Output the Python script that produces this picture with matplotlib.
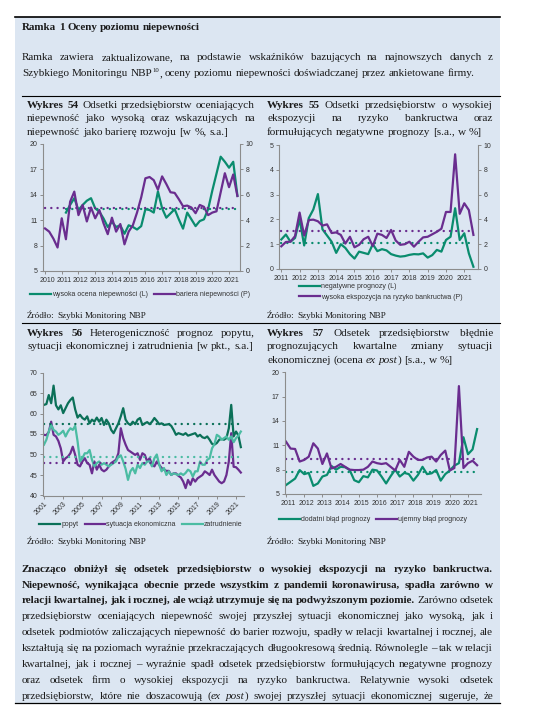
import numpy as np
import matplotlib
matplotlib.use("Agg")
import matplotlib.pyplot as plt
from matplotlib.lines import Line2D
from matplotlib.patches import Rectangle

plt.rcParams['font.family'] = ['Liberation Sans', 'DejaVu Sans']

# ------------------------------------------------------------------ DATA
# Wykres 54 (quarterly)
w54_years = list(range(2010, 2022))
w54_bariera_start = 2010.0
w54_bariera = [3.35, 3.1, 2.55, 1.85, 4.15, 2.5, 5.45, 6.25, 4.4, 5.2,
               3.9, 5.0, 4.15, 4.8, 3.75, 2.9, 4.2, 3.1, 3.7, 2.1,
               3.1, 3.6, 4.6, 5.8, 7.3, 7.4, 7.15, 6.4, 7.45, 6.85,
               6.2, 6.15, 5.65, 5.1, 5.15, 5.0, 4.55, 5.2, 5.05, 4.4,
               4.6, 4.7, 6.2, 7.7, 6.6, 7.6, 5.9]
w54_ocena_start = 2011.25
w54_ocena = [11.9, 12.8, 13.6, 12.2, 12.8, 13.3, 13.6, 12.4, 12.0, 11.2,
             10.2, 10.8, 10.2, 10.4, 9.4, 10.4, 10.2, 9.9, 10.3, 12.3,
             12.2, 11.9, 14.4, 12.4, 11.3, 11.8, 12.3, 11.1, 10.0, 11.9,
             11.1, 10.3, 10.9, 11.1, 12.3, 14.5, 16.5, 18.5, 17.9, 17.2,
             17.9, 13.9]
w54_ocena_mean = 12.3
w54_bariera_mean = 4.95
w54_left_ticks = [5, 8, 11, 14, 17, 20]
w54_right_ticks = [0, 2, 4, 6, 8, 10]

# Wykres 55 (quarterly from 2011Q1)
w55_years = list(range(2011, 2022))
w55_start = 2011.0
w55_negatywne = [1.19, 1.39, 1.1, 1.25, 2.0, 0.95, 2.05, 2.4, 3.02, 1.6,
                 1.35, 1.1, 0.65, 1.0, 0.85, 0.6, 0.42, 0.7, 0.65, 0.6,
                 1.0, 0.72, 0.8, 0.75, 0.6, 0.54, 0.5, 0.52, 0.57, 0.6,
                 0.59, 0.63, 0.46, 0.56, 0.77, 0.7, 1.17, 1.3, 2.45, 1.17,
                 1.44, 0.63, 0.09]
w55_ekspozycja = [1.83, 2.18, 2.2, 2.65, 4.55, 2.7, 3.95, 3.98, 3.85, 3.5,
                  3.6, 2.9, 2.95, 2.75, 2.05, 2.6, 1.75, 1.95, 2.4, 2.6,
                  1.85, 2.85, 2.75, 2.5, 3.15, 2.3, 1.95, 2.0, 2.2, 1.8,
                  2.2, 2.55, 2.6, 2.8, 3.0, 3.25, 4.6, 4.6, 9.25, 4.45,
                  5.3, 4.75, 2.75]
w55_negatywne_mean = 1.03
w55_ekspozycja_mean = 3.05
w55_left_ticks = [0, 1, 2, 3, 4, 5]
w55_right_ticks = [0, 2, 4, 6, 8, 10]

# Wykres 56 (quarterly from 2001Q1)
w56_start = 2001.0
w56_ticks = list(range(2001, 2022, 2))
w56_popyt = [62.1, 62.3, 64.5, 62.5, 66.8, 62.0, 61.0, 62.0,
             60.1, 61.3, 62.5, 63.3, 63.9, 61.0, 59.0, 59.7,
             58.9, 58.5, 59.3, 57.6, 58.5, 58.0, 59.0, 58.0,
             58.9, 57.2, 58.5, 57.6, 56.0, 55.2, 56.4, 57.6,
             59.3, 61.3, 58.5, 57.6, 57.2, 58.0, 57.4, 58.5,
             58.9, 57.2, 57.6, 57.9, 57.4, 58.0, 58.9, 58.2,
             57.4, 57.6, 57.2, 57.3, 57.4, 57.0, 56.0, 54.8,
             55.2, 55.0, 54.8, 55.2, 54.6, 54.8, 55.0, 55.2,
             54.4, 54.8, 54.2, 54.0, 54.4, 53.6, 52.6, 52.4,
             52.8, 53.6, 53.8, 53.6, 54.0, 56.4, 62.1, 54.4,
             55.6, 54.6, 51.8]
w56_sytuacja = [54.8, 54.7, 55.5, 58.0, 54.8, 54.4, 53.3, 51.5,
                48.3, 49.1, 49.5, 50.3, 51.9, 49.9, 47.5, 47.1,
                48.3, 49.1, 47.9, 47.5, 45.4, 48.3, 46.3, 47.5,
                46.3, 45.9, 46.3, 47.1, 47.9, 48.3, 48.7, 50.3,
                56.4, 54.0, 52.4, 51.1, 50.7, 50.3, 49.9, 50.3,
                48.7, 50.3, 49.9, 48.3, 49.1, 47.5, 47.1, 48.3,
                47.5, 46.7, 46.3, 46.0, 46.0, 45.0, 45.4, 45.4,
                44.8, 44.4, 43.4, 41.8, 43.8, 42.6, 44.2, 43.4,
                44.2, 44.6, 45.0, 45.9, 45.5, 45.0, 46.3, 45.0,
                44.2, 43.4, 43.0, 43.4, 45.0, 48.3, 55.2, 47.0,
                46.9, 46.3, 45.6]
w56_zatrudnienie = [52.4, 53.6, 55.6, 57.2, 56.0, 55.6, 54.8, 55.2,
                    55.8, 54.4, 55.6, 56.4, 56.0, 57.0, 53.2, 48.3,
                    49.1, 50.3, 50.3, 51.1, 48.7, 47.1, 47.9, 48.3,
                    47.5, 47.9, 47.5, 47.1, 47.5, 47.9, 48.3, 49.5,
                    49.8, 48.3, 46.5, 43.8, 45.9, 46.7, 45.4, 47.5,
                    46.7, 47.9, 47.5, 48.3, 48.3, 47.1, 49.1, 50.0,
                    47.5, 45.9, 46.7, 45.0, 45.9, 45.0, 45.4, 45.2,
                    45.0, 45.4, 45.0, 45.5, 46.3, 45.9, 44.6, 45.9,
                    45.9, 48.3, 47.5, 47.5, 48.7, 49.1, 51.5, 52.5,
                    54.8, 54.4, 53.6, 54.0, 54.4, 53.6, 54.4, 53.0,
                    54.0, 54.6, 55.6]
w56_popyt_mean = 57.5
w56_sytuacja_mean = 48.0
w56_zatrudnienie_mean = 49.4
w56_yticks = [40, 45, 50, 55, 60, 65, 70]

# Wykres 57 (quarterly from 2011Q1)
w57_years = list(range(2011, 2022))
w57_start = 2011.0
w57_dodatni = [6.1, 6.5, 6.9, 7.95, 7.45, 7.6, 6.0, 6.3, 7.15, 7.35,
               8.45, 8.0, 8.35, 8.3, 7.95, 6.7, 6.45, 7.2, 7.05, 8.0,
               7.9, 7.15, 6.3, 7.2, 8.0, 7.15, 7.6, 7.45, 6.65, 7.35,
               8.35, 7.45, 7.55, 7.95, 6.65, 7.45, 7.9, 8.5, 8.8, 12.0,
               9.9, 10.5, 13.0]
w57_ujemny = [11.45, 10.6, 10.55, 9.0, 9.2, 9.6, 11.25, 10.6, 8.7, 10.0,
              8.15, 8.35, 8.7, 8.35, 8.0, 7.95, 7.95, 8.0, 8.35, 9.0,
              8.8, 8.7, 8.8, 8.35, 7.9, 9.2, 8.35, 10.2, 9.6, 9.2,
              9.2, 9.5, 9.6, 9.0, 9.8, 10.35, 7.9, 8.2, 18.3, 8.2,
              8.8, 9.1, 8.55]
w57_dodatni_mean = 7.75
w57_ujemny_mean = 9.3
w57_yticks = [5, 8, 11, 14, 17, 20]

# ------------------------------------------------------------------ STYLE
W, H = 533, 710
SERIF = ['Liberation Serif', 'DejaVu Serif']
GREEN = '#0a8c6e'
DKGREEN = '#0b7058'
VIOLET = '#6a2d8f'
TEAL = '#4bbca3'
BG = '#dce6f2'
AXC = '#8c8c8c'
TXT = '#1a1a1a'
LBL = '#333333'
LW = 1.6
DOT = dict(linestyle=(0, (0.05, 2.6)), dash_capstyle='round', lw=1.7)

fig = plt.figure(figsize=(W / 100, H / 100), dpi=100)
fig.patch.set_facecolor('white')
renderer = fig.canvas.get_renderer()


def fx(x):
    return x / W


def fy(y):
    return 1 - y / H


fig.add_artist(Rectangle((fx(15), fy(703)), (500 - 15) / W, (703 - 17) / H,
                         transform=fig.transFigure, facecolor=BG,
                         edgecolor='none', zorder=-5))


def hline(x0, x1, y, lw):
    fig.add_artist(Line2D([fx(x0), fx(x1)], [fy(y), fy(y)], color='black',
                          lw=lw, transform=fig.transFigure, zorder=1))


hline(15, 500, 17, 1.2)
hline(22, 500, 95.7, 0.8)
hline(22, 500, 323, 0.8)
hline(15, 500, 703, 0.9)

# ------------------------------------------------------------------ TEXT HELPERS
_cache = {}


def seg_props(kind, size):
    if kind == 'b':
        return dict(fontsize=size, fontweight='bold', fontstyle='normal'), 0.0
    if kind == 'i':
        return dict(fontsize=size, fontweight='normal', fontstyle='italic'), 0.0
    if kind == 'sup':
        return dict(fontsize=size * 0.6, fontweight='normal', fontstyle='normal'), size * 0.38 * 100 / 72
    return dict(fontsize=size, fontweight='normal', fontstyle='normal'), 0.0


def seg_width(s, kind, size):
    key = (s, kind, round(size, 4))
    if key not in _cache:
        props, _ = seg_props(kind, size)
        t = fig.text(0, 0, s, family=SERIF, **props)
        _cache[key] = t.get_window_extent(renderer).width
        t.remove()
    return _cache[key]


def space_w(size, kind='r'):
    return seg_width('x x', kind, size) - seg_width('xx', kind, size)


def runs_to_words(runs):
    words, cur = [], []
    for text, kind in runs:
        parts = text.split(' ')
        for j, p in enumerate(parts):
            if j > 0 and cur:
                words.append(cur)
                cur = []
            if p:
                cur.append((p, kind))
    if cur:
        words.append(cur)
    return words


def natural_width(runs, size):
    words = runs_to_words(runs)
    return sum(sum(seg_width(s, k, size) for s, k in w) for w in words) + \
        space_w(size) * (len(words) - 1)


def fit_size(runs, target, base=8.0):
    return base * target / natural_width(runs, base)


def draw_line(runs, x0, x1, ybase, size, justify=True):
    words = runs_to_words(runs)
    while True:
        ws = [sum(seg_width(s, k, size) for s, k in w) for w in words]
        sp = space_w(size)
        if justify and len(words) > 1:
            gap = (x1 - x0 - sum(ws)) / (len(words) - 1)
            if gap < 0.45 * sp:
                size *= 0.99
                continue
        else:
            gap = sp
        break
    x = x0
    for w, wd in zip(words, ws):
        xx = x
        for s, k in w:
            props, rise = seg_props(k, size)
            fig.text(fx(xx), fy(ybase - rise), s, family=SERIF, color=TXT,
                     ha='left', va='baseline', **props)
            xx += seg_width(s, k, size)
        x += wd + gap


# ------------------------------------------------------------------ PAGE TEXT
title_runs = [("Ramka 1 Oceny poziomu niepewności", 'b')]
draw_line(title_runs, 22, 500, 30.5, fit_size(title_runs, 176), justify=False)

intro2 = [("Szybkiego Monitoringu NBP", 'r'), ("10", 'sup'),
          (", oceny poziomu niepewności doświadczanej przez ankietowane firmy.", 'r')]
BODY = fit_size(intro2, 455)
draw_line([("Ramka zawiera zaktualizowane, na podstawie wskaźników bazujących na najnowszych danych z", 'r')],
          22, 493, 60.5, BODY, True)
draw_line(intro2, 22, 493, 76.3, BODY, False)

CT = fit_size([("sytuacji ekonomicznej i zatrudnienia [w pkt., s.a.]", 'r')], 225)
SRC = fit_size([("Źródło: Szybki Monitoring NBP", 'r')], 120)

titles = [
    (27, 255, [107.8, 121.2, 134.6], [
        ([("Wykres 54", 'b'), (" Odsetki przedsiębiorstw oceniających", 'r')], True),
        ([("niepewność jako wysoką oraz wskazujących na", 'r')], True),
        ([("niepewność jako barierę rozwoju [w %, s.a.]", 'r')], False)]),
    (267, 493, [107.8, 121.2, 134.6], [
        ([("Wykres 55", 'b'), (" Odsetki przedsiębiorstw o wysokiej", 'r')], True),
        ([("ekspozycji na ryzyko bankructwa oraz", 'r')], True),
        ([("formułujących negatywne prognozy [s.a., w %]", 'r')], False)]),
    (27, 255, [335.8, 349.3], [
        ([("Wykres 56", 'b'), (" Heterogeniczność prognoz popytu,", 'r')], True),
        ([("sytuacji ekonomicznej i zatrudnienia [w pkt., s.a.]", 'r')], False)]),
    (267, 493, [335.8, 349.3, 362.8], [
        ([("Wykres 57", 'b'), (" Odsetek przedsiębiorstw błędnie", 'r')], True),
        ([("prognozujących kwartalne zmiany sytuacji", 'r')], True),
        ([("ekonomicznej (ocena ", 'r'), ("ex post", 'i'), (") [s.a., w %]", 'r')], False)]),
]
for x0, x1, ys, lines in titles:
    for yb, (runs, j) in zip(ys, lines):
        draw_line(runs, x0, x1, yb, CT, j)

for (x0, yb) in [(27, 318.5), (267, 318.5), (27, 543.5), (267, 543.5)]:
    draw_line([("Źródło: Szybki Monitoring NBP", 'r')], x0, 500, yb, SRC, False)

para = [
    [("Znacząco obniżył się odsetek przedsiębiorstw o wysokiej ekspozycji na ryzyko bankructwa.", 'b')],
    [("Niepewność, wynikająca obecnie przede wszystkim z pandemii koronawirusa, spadła zarówno w", 'b')],
    [("relacji kwartalnej, jak i rocznej, ale wciąż utrzymuje się na podwyższonym poziomie.", 'b'),
     (" Zarówno odsetek", 'r')],
    [("przedsiębiorstw oceniających niepewność swojej przyszłej sytuacji ekonomicznej jako wysoką, jak i", 'r')],
    [("odsetek podmiotów zaliczających niepewność do barier rozwoju, spadły w relacji kwartalnej i rocznej, ale", 'r')],
    [("kształtują się na poziomach wyraźnie przekraczających długookresową średnią. Równolegle – tak w relacji", 'r')],
    [("kwartalnej, jak i rocznej – wyraźnie spadł odsetek przedsiębiorstw formułujących negatywne prognozy", 'r')],
    [("oraz odsetek firm o wysokiej ekspozycji na ryzyko bankructwa. Relatywnie wysoki odsetek", 'r')],
    [("przedsiębiorstw, które nie doszacowują (", 'r'), ("ex post", 'i'),
     (") swojej przyszłej sytuacji ekonomicznej sugeruje, że", 'r')],
]
for k, runs in enumerate(para):
    draw_line(runs, 22, 493, 571.8 + 15.84 * k, BODY, True)


# ------------------------------------------------------------------ AXES HELPERS
def base_axes(l, r, t, b):
    ax = fig.add_axes([fx(l), fy(b), (r - l) / W, (b - t) / H])
    ax.patch.set_visible(False)
    ax.spines['top'].set_visible(False)
    ax.spines['right'].set_visible(False)
    for s in ('left', 'bottom'):
        ax.spines[s].set_color(AXC)
        ax.spines[s].set_linewidth(0.8)
    ax.tick_params(axis='both', which='both', colors=AXC, labelcolor=LBL,
                   labelsize=5, width=0.7, length=2, pad=2)
    return ax


def right_axes(ax):
    ax2 = ax.twinx()
    ax2.patch.set_visible(False)
    for s in ('top', 'left', 'bottom'):
        ax2.spines[s].set_visible(False)
    ax2.spines['right'].set_color(AXC)
    ax2.spines['right'].set_linewidth(0.8)
    ax2.tick_params(axis='y', colors=AXC, labelcolor=LBL, labelsize=5,
                    width=0.7, length=2, pad=2)
    return ax2


def qx(start, n):
    return start + 0.25 * np.arange(n)


def legend(ax, handles, labels, cx, cy, ncol, **kw):
    ax.legend(handles, labels, loc='center', bbox_to_anchor=(fx(cx), fy(cy)),
              bbox_transform=fig.transFigure, ncol=ncol, frameon=False,
              fontsize=5, handlelength=3.0, handletextpad=0.15,
              columnspacing=0.9, borderpad=0, borderaxespad=0,
              labelcolor=LBL, **kw)


# ------------------------------------------------------------------ WYKRES 54
ax = base_axes(43, 240, 144, 271)
ax.set_xlim(2009.88, 2021.655)
ax.set_ylim(5, 20)
ax.set_yticks(w54_left_ticks)
t_oc = qx(w54_ocena_start, len(w54_ocena))
t_ba = qx(w54_bariera_start, len(w54_bariera))
l_oc, = ax.plot(t_oc, w54_ocena, color=GREEN, lw=LW)
ax.plot([t_oc[0], t_oc[-1]], [w54_ocena_mean] * 2, color=GREEN, **DOT)
ax.set_xticks([y + 0.125 for y in w54_years])
ax.set_xticklabels([str(y) for y in w54_years])
ax.set_xticks(w54_years, minor=True)
ax.tick_params(axis='x', which='major', length=0, pad=4)
ax2 = right_axes(ax)
ax2.set_ylim(0, 10)
ax2.set_yticks(w54_right_ticks)
l_ba, = ax2.plot(t_ba, w54_bariera, color=VIOLET, lw=LW)
ax2.plot([t_ba[0], t_ba[-1]], [w54_bariera_mean] * 2, color=VIOLET, **DOT)
legend(ax, [l_oc, l_ba], ['wysoka ocena niepewności (L)', 'bariera niepewności (P)'],
       140, 295, 2)

# ------------------------------------------------------------------ WYKRES 55
ax = base_axes(279, 478, 145, 269)
ax.set_xlim(2010.874, 2021.75)
ax.set_ylim(0, 5)
ax.set_yticks(w55_left_ticks)
t55 = qx(w55_start, len(w55_negatywne))
l_ng, = ax.plot(t55, w55_negatywne, color=GREEN, lw=LW)
ax.plot([t55[0], t55[-1]], [w55_negatywne_mean] * 2, color=GREEN, **DOT)
ax.set_xticks(w55_years)
ax.set_xticklabels([str(y) for y in w55_years])
ax.tick_params(axis='x', which='major', pad=2.5)
ax2 = right_axes(ax)
ax2.set_ylim(0, 10)
ax2.set_yticks(w55_right_ticks)
t55b = qx(w55_start, len(w55_ekspozycja))
l_ek, = ax2.plot(t55b, w55_ekspozycja, color=VIOLET, lw=LW)
ax2.plot([t55b[0], t55b[-1]], [w55_ekspozycja_mean] * 2, color=VIOLET, **DOT)
ax.legend([l_ng, l_ek], ['negatywne prognozy (L)', 'wysoka ekspozycja na ryzyko bankructwa (P)'],
          loc='upper left', bbox_to_anchor=(fx(299), fy(283)),
          bbox_transform=fig.transFigure, ncol=1, frameon=False, fontsize=5,
          handlelength=3.0, handletextpad=0.15, labelspacing=0.55,
          borderpad=0, borderaxespad=0, labelcolor=LBL)

# ------------------------------------------------------------------ WYKRES 56
ax = base_axes(43.3, 244, 372.5, 495.5)
ax.set_xlim(2000.93, 2021.83)
ax.set_ylim(40, 70)
ax.set_yticks(w56_yticks)
t56 = qx(w56_start, len(w56_popyt))
l_p, = ax.plot(t56, w56_popyt, color=DKGREEN, lw=LW)
l_s, = ax.plot(t56, w56_sytuacja, color=VIOLET, lw=LW)
l_z, = ax.plot(t56, w56_zatrudnienie, color=TEAL, lw=LW)
ax.plot([t56[0], t56[-1]], [w56_popyt_mean] * 2, color=DKGREEN, **DOT)
ax.plot([t56[0], t56[-1]], [w56_zatrudnienie_mean] * 2, color=TEAL, **DOT)
ax.plot([t56[0], t56[-1]], [w56_sytuacja_mean] * 2, color=VIOLET, **DOT)
ax.set_xticks(w56_ticks)
ax.set_xticklabels([str(y) for y in w56_ticks], rotation=45, ha='right',
                   rotation_mode='anchor')
ax.tick_params(axis='x', pad=1.5)
legend(ax, [l_p, l_s, l_z], ['popyt', 'sytuacja ekonomiczna', 'zatrudnienie'],
       141, 525, 3)

# ------------------------------------------------------------------ WYKRES 57
ax = base_axes(285, 481, 372.3, 494)
ax.set_xlim(2010.945, 2021.714)
ax.set_ylim(5, 20)
ax.set_yticks(w57_yticks)
t57 = qx(w57_start, len(w57_dodatni))
l_d, = ax.plot(t57, w57_dodatni, color=GREEN, lw=LW)
l_u, = ax.plot(qx(w57_start, len(w57_ujemny)), w57_ujemny, color=VIOLET, lw=LW)
ax.plot([t57[0], t57[-1]], [w57_ujemny_mean] * 2, color=VIOLET, **DOT)
ax.plot([t57[0], t57[-1]], [w57_dodatni_mean] * 2, color=GREEN, **DOT)
ax.set_xticks([y + 0.125 for y in w57_years])
ax.set_xticklabels([str(y) for y in w57_years])
ax.set_xticks(w57_years, minor=True)
ax.tick_params(axis='x', which='major', length=0, pad=4)
legend(ax, [l_d, l_u], ['dodatni błąd prognozy', 'ujemny błąd prognozy'],
       373, 519.5, 2)

fig.savefig('out.png', dpi=100, facecolor='white')
